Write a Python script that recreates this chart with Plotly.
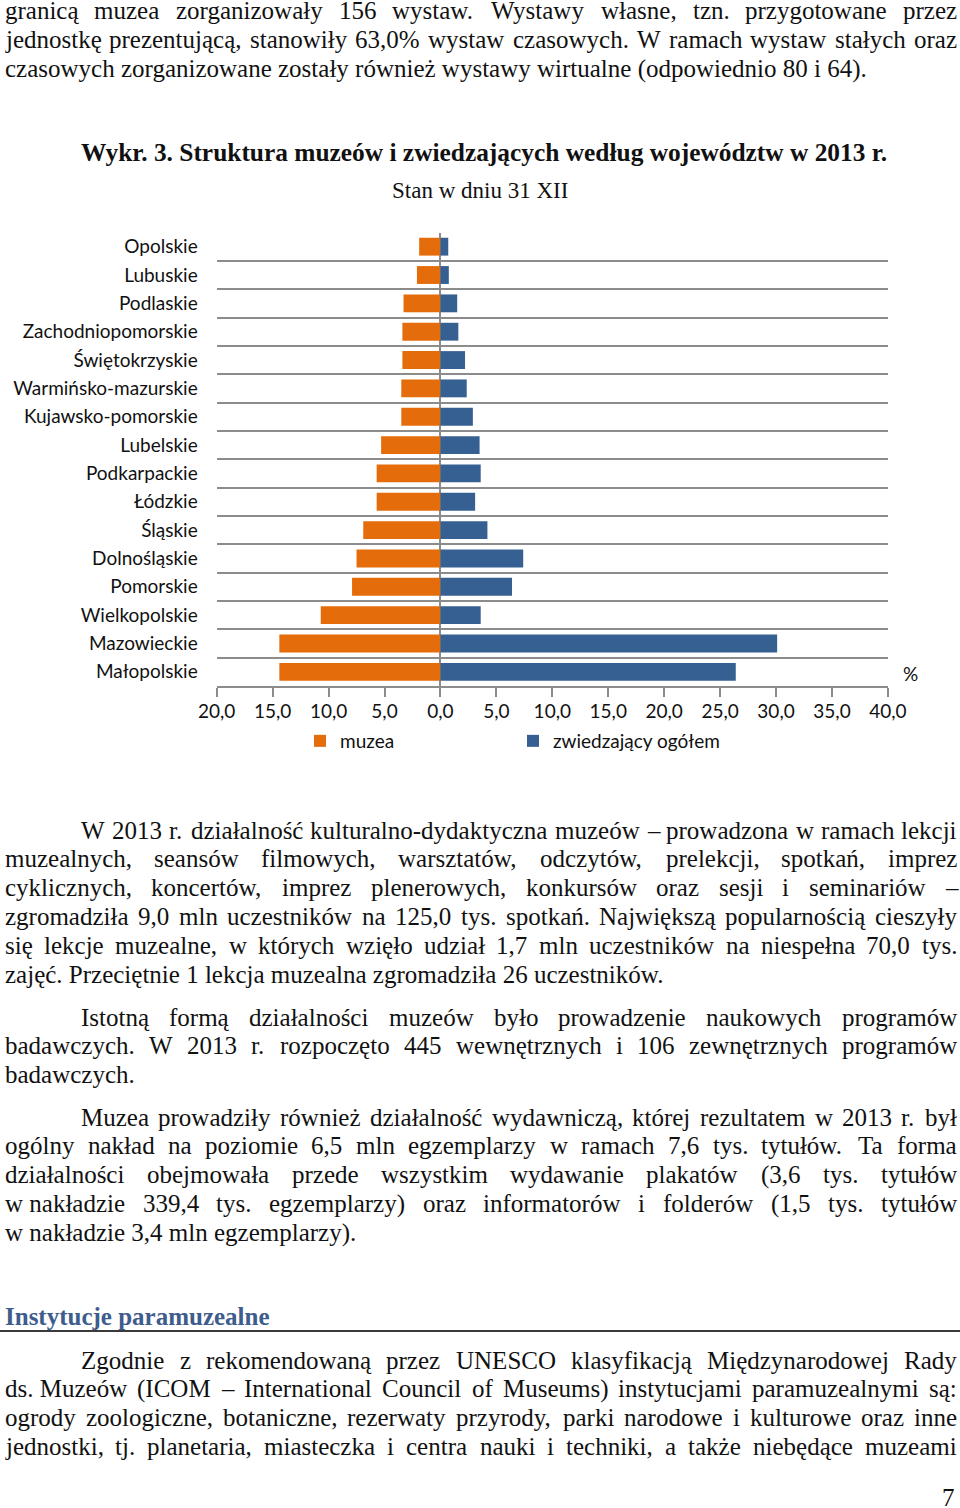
import plotly.graph_objects as go

W, H = 960, 1508

# ---------------- chart data ----------------
regions = ["Opolskie", "Lubuskie", "Podlaskie", "Zachodniopomorskie", "Świętokrzyskie",
           "Warmińsko-mazurskie", "Kujawsko-pomorskie", "Lubelskie", "Podkarpackie", "Łódzkie",
           "Śląskie", "Dolnośląskie", "Pomorskie", "Wielkopolskie", "Mazowieckie", "Małopolskie"]
muzea = [1.9, 2.1, 3.3, 3.4, 3.4, 3.5, 3.5, 5.3, 5.7, 5.7, 6.9, 7.5, 7.9, 10.7, 14.4, 14.4]
zwiedzajacy = [0.7, 0.75, 1.5, 1.6, 2.2, 2.35, 2.9, 3.5, 3.6, 3.1, 4.2, 7.4, 6.4, 3.6, 30.1, 26.4]
tick_vals = [-20, -15, -10, -5, 0, 5, 10, 15, 20, 25, 30, 35, 40]
tick_text = ["20,0", "15,0", "10,0", "5,0", "0,0", "5,0", "10,0", "15,0", "20,0",
             "25,0", "30,0", "35,0", "40,0"]
series_names = ["muzea", "zwiedzający ogółem"]

chart_title = "Wykr. 3. Struktura muzeów i zwiedzających według województw w 2013 r."
chart_subtitle = "Stan w dniu 31 XII"

# ---------------- page text ----------------
para1 = ["granicą muzea zorganizowały 156 wystaw. Wystawy własne, tzn. przygotowane przez",
         "jednostkę prezentującą, stanowiły 63,0% wystaw czasowych. W ramach wystaw stałych oraz",
         "czasowych zorganizowane zostały również wystawy wirtualne (odpowiednio 80 i 64)."]
para2 = ["W 2013 r. działalność kulturalno-dydaktyczna muzeów – prowadzona w ramach lekcji",
         "muzealnych, seansów filmowych, warsztatów, odczytów, prelekcji, spotkań, imprez",
         "cyklicznych, koncertów, imprez plenerowych, konkursów oraz sesji i seminariów –",
         "zgromadziła 9,0 mln uczestników na 125,0 tys. spotkań. Największą popularnością cieszyły",
         "się lekcje muzealne, w których wzięło udział 1,7 mln uczestników na niespełna 70,0 tys.",
         "zajęć. Przeciętnie 1 lekcja muzealna zgromadziła 26 uczestników."]
para3 = ["Istotną formą działalności muzeów było prowadzenie naukowych programów",
         "badawczych. W 2013 r. rozpoczęto 445 wewnętrznych i 106 zewnętrznych programów",
         "badawczych."]
para4 = ["Muzea prowadziły również działalność wydawniczą, której rezultatem w 2013 r. był",
         "ogólny nakład na poziomie 6,5 mln egzemplarzy w ramach 7,6 tys. tytułów. Ta forma",
         "działalności obejmowała przede wszystkim wydawanie plakatów (3,6 tys. tytułów",
         "w\u00a0nakładzie 339,4 tys. egzemplarzy) oraz informatorów i folderów (1,5 tys. tytułów",
         "w\u00a0nakładzie 3,4 mln egzemplarzy)."]
para5 = ["Zgodnie z rekomendowaną przez UNESCO klasyfikacją Międzynarodowej Rady",
         "ds.\u00a0Muzeów (ICOM – International Council of Museums) instytucjami paramuzealnymi są:",
         "ogrody zoologiczne, botaniczne, rezerwaty przyrody, parki narodowe i kulturowe oraz inne",
         "jednostki, tj. planetaria, miasteczka i centra nauki i techniki, a także niebędące muzeami"]
section_heading = "Instytucje paramuzealne"
page_number = "7"

# Times New Roman advance widths (1/1000 em) – Liberation Serif is metric compatible
TW = {' ': 250, '\u00a0': 250, '%': 833, '(': 333, ')': 333, ',': 250, '-': 333, '.': 250,
      ':': 278, ';': 278, '–': 500, '0': 500, '1': 500, '2': 500, '3': 500, '4': 500,
      '5': 500, '6': 500, '7': 500, '8': 500, '9': 500,
      'A': 722, 'B': 667, 'C': 667, 'D': 722, 'E': 611, 'F': 556, 'G': 722, 'H': 722,
      'I': 333, 'J': 389, 'K': 722, 'L': 611, 'M': 889, 'N': 722, 'O': 722, 'P': 556,
      'Q': 722, 'R': 667, 'S': 556, 'T': 611, 'U': 722, 'V': 722, 'W': 944, 'X': 722,
      'Y': 722, 'Z': 611,
      'a': 444, 'b': 500, 'c': 444, 'd': 500, 'e': 444, 'f': 333, 'g': 500, 'h': 500,
      'i': 278, 'j': 278, 'k': 500, 'l': 278, 'm': 778, 'n': 500, 'o': 500, 'p': 500,
      'q': 500, 'r': 333, 's': 389, 't': 278, 'u': 500, 'v': 500, 'w': 722, 'x': 500,
      'y': 500, 'z': 444,
      'ą': 444, 'ć': 444, 'ę': 444, 'ł': 278, 'ń': 500, 'ó': 500, 'ś': 389, 'ź': 444,
      'ż': 444, 'Ł': 611, 'Ś': 556, 'Ż': 611}

SERIF = "Liberation Serif, Times New Roman, serif"
SANS = "Lato, Calibri, sans-serif"
TXT = "#111111"
FS = 25
LEFT, RIGHT, INDENT = 4, 956, 80
LINE = 28.9


def tw(s, size):
    return sum(TW.get(ch, 500) for ch in s) * size / 1000.0


annotations = []


def px(x, y):
    return x / W, 1 - y / H


def add_text(text, x, y, size=FS, anchor="left", color=TXT, family=SERIF):
    ax, ay = px(x, y)
    annotations.append(dict(text=text, x=ax, y=ay, xref="paper", yref="paper",
                            xanchor=anchor, yanchor="middle", showarrow=False,
                            borderpad=0, font=dict(family=family, size=size, color=color)))


def add_paragraph(lines, y0, indent=True, last_justified=False):
    for i, line in enumerate(lines):
        y = y0 + i * LINE
        left = INDENT if (indent and i == 0) else LEFT
        justify = (i < len(lines) - 1) or last_justified
        words = line.split(" ")
        if not justify or len(words) < 2:
            add_text(line, left, y)
            continue
        widths = [tw(w_, FS) for w_ in words]
        gap = (RIGHT - left - sum(widths)) / (len(words) - 1)
        x = left
        for w_, wd in zip(words, widths):
            add_text(w_, x, y)
            x += wd + gap


add_paragraph(para1, 11, indent=False)
add_paragraph(para2, 830)
add_paragraph(para3, 1017)
add_paragraph(para4, 1117)
add_paragraph(para5, 1360, last_justified=True)

add_text("<b>" + chart_title + "</b>", 80, 152, size=25.4)
add_text(chart_subtitle, 480, 191, size=23, anchor="center")
add_text("<b>" + section_heading + "</b>", LEFT, 1316, color="#3E5C8C")
add_text(page_number, 956, 1497, anchor="right")
add_text("%", 910, 674, size=19, family=SANS, anchor="center")

# ---------------- figure ----------------
ORANGE = "#E46C0A"
BLUE = "#376092"
GRID = "#8C8C8C"

fig = go.Figure()
fig.add_trace(go.Bar(y=regions, x=[-v for v in muzea], orientation="h", name=series_names[0],
                     marker=dict(color=ORANGE, line=dict(width=0)), customdata=muzea,
                     hovertemplate="%{y}: %{customdata:.1f}%<extra></extra>"))
fig.add_trace(go.Bar(y=regions, x=zwiedzajacy, orientation="h", name=series_names[1],
                     marker=dict(color=BLUE, line=dict(width=0)),
                     hovertemplate="%{y}: %{x:.1f}%<extra></extra>"))

fig.update_layout(
    template="none",
    width=W, height=H, autosize=False, margin=dict(l=0, r=0, t=0, b=0, pad=0),
    paper_bgcolor="white", plot_bgcolor="white",
    barmode="relative", bargap=0.37,
    showlegend=True,
    legend=dict(orientation="h", x=300 / W, y=1 - 741 / H, xanchor="left", yanchor="middle",
                font=dict(family=SANS, size=19, color=TXT), bgcolor="rgba(0,0,0,0)",
                entrywidth=168, entrywidthmode="pixels", traceorder="normal"),
    annotations=annotations,
    shapes=[dict(type="line", xref="paper", yref="paper", x0=0, x1=1,
                 y0=1 - 1331 / H, y1=1 - 1331 / H, line=dict(color="#3A3A3A", width=2))],
)
fig.update_xaxes(domain=[216.7 / W, 887.9 / W], range=[-20, 40], tickvals=tick_vals,
                 ticktext=tick_text, ticks="outside", ticklen=9, tickwidth=1.5, tickcolor=GRID,
                 showline=True, linecolor=GRID, linewidth=1.5, showgrid=False,
                 zeroline=True, zerolinecolor=GRID, zerolinewidth=1.5, layer="above traces",
                 automargin=False, ticklabelstandoff=-2,
                 tickfont=dict(family=SANS, size=19, color=TXT), fixedrange=True)
fig.update_yaxes(domain=[1 - 686 / H, 1 - 232.5 / H], type="category",
                 categoryorder="array", categoryarray=regions, autorange="reversed",
                 tickson="boundaries", showgrid=True, gridcolor=GRID, gridwidth=1.5,
                 ticks="", showline=False, zeroline=False, ticklabelstandoff=18,
                 automargin=False,
                 tickfont=dict(family=SANS, size=19, color=TXT), fixedrange=True)

fig.write_html("out.html", config={"displayModeBar": False},
               post_script="document.body.style.margin='0';document.body.style.overflow='hidden';")
